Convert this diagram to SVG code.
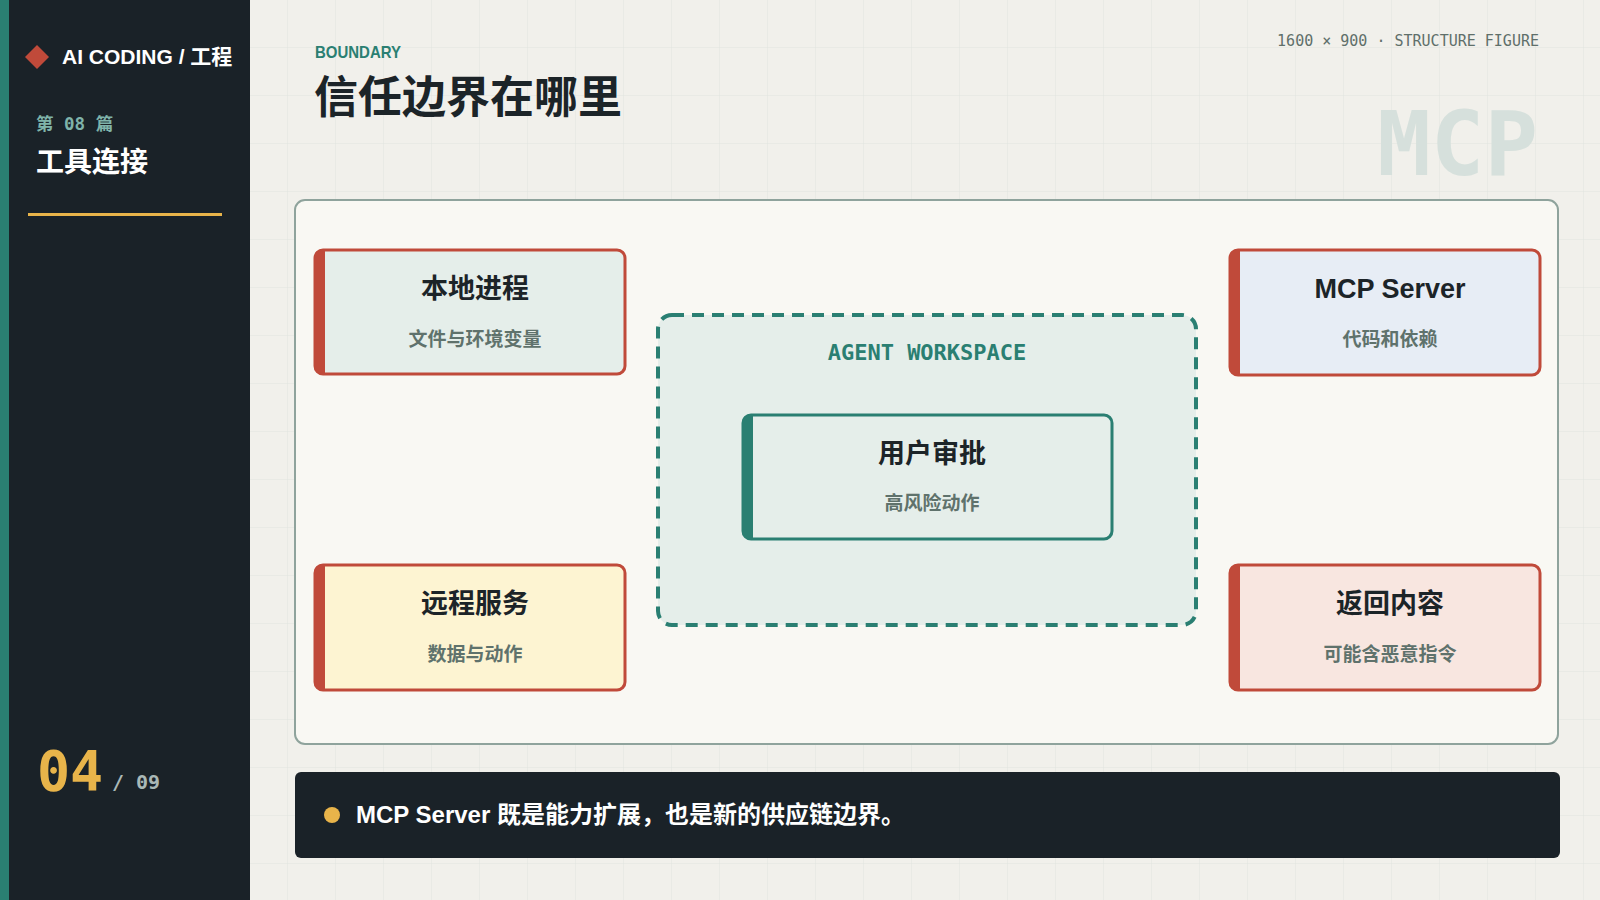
<svg xmlns="http://www.w3.org/2000/svg" width="1600" height="900" viewBox="0 0 1600 900">
<defs>
<pattern id="grid" x="0" y="0" width="48" height="48" patternUnits="userSpaceOnUse">
<path d="M48 0 V48 M0 48 H48" fill="none" stroke="#e1e5df" stroke-width="1"/>
</pattern>
<style>
.sans{font-family:"Liberation Sans","Noto Sans CJK SC",sans-serif;}
.mono{font-family:"DejaVu Sans Mono","Liberation Mono","Noto Sans CJK SC",monospace;}
.node{stroke:#c04a3a;stroke-width:3;}
.bar{fill:#c04a3a;}
.ntitle{font-family:"Liberation Sans","Noto Sans CJK SC",sans-serif;font-size:27px;font-weight:bold;fill:#1c2428;text-anchor:middle;}
.nsub{font-family:"Noto Sans CJK SC",sans-serif;font-size:19px;font-weight:bold;fill:#5f726c;text-anchor:middle;}
</style>
</defs>
<rect x="0" y="0" width="1600" height="900" fill="#f1f0eb"/>
<rect x="250" y="0" width="1350" height="900" fill="url(#grid)"/>
<!-- sidebar -->
<rect x="0" y="0" width="250" height="900" fill="#1a2228"/>
<rect x="0" y="0" width="9" height="900" fill="#2a7f72"/>
<path d="M37 45 L49 57 L37 69 L25 57 Z" fill="#c04a3a"/>
<text x="62" y="64" class="sans" font-size="21" font-weight="bold" fill="#ffffff">AI CODING / 工程</text>
<text x="36" y="130" class="mono" font-size="17.5" font-weight="bold" fill="#7fb3aa">第 08 篇</text>
<text x="36" y="172" font-family="Noto Sans CJK SC,sans-serif" font-size="28" font-weight="bold" fill="#ffffff">工具连接</text>
<rect x="28" y="213" width="194" height="3" fill="#e8b44a"/>
<text x="37" y="790" class="mono" font-size="55" font-weight="bold" fill="#e8b44a">04</text>
<text x="112" y="789" class="mono" font-size="20" font-weight="bold" fill="#a9b8b6">/ 09</text>
<!-- header -->
<text x="315" y="58" class="sans" font-size="17" font-weight="bold" fill="#2a7f72" textLength="86" lengthAdjust="spacingAndGlyphs">BOUNDARY</text>
<text x="314" y="113" font-family="Noto Sans CJK SC,sans-serif" font-size="44" font-weight="bold" fill="#1c2428">信任边界在哪里</text>
<text x="1539" y="46" class="mono" font-size="15" fill="#5f6f6a" text-anchor="end">1600 × 900 · STRUCTURE FIGURE</text>
<text x="1538" y="175" class="mono" font-size="89" font-weight="bold" fill="#d6e0dc" text-anchor="end">MCP</text>
<!-- frame -->
<rect x="295" y="200" width="1263" height="544" rx="10" fill="#f9f8f3" stroke="#8fa39c" stroke-width="2"/>
<g id="workspace">
<rect x="658" y="315" width="538" height="310" rx="14" fill="#e5eeea" stroke="#2a7f72" stroke-width="4" stroke-dasharray="12 8"/>
<text x="927" y="360" class="mono" font-size="22" font-weight="bold" fill="#2a7f72" text-anchor="middle">AGENT WORKSPACE</text>
</g>
<g id="connectors"></g>
<g id="node-local">
<rect x="315" y="250" width="310" height="124" rx="8" fill="#e5eeea" class="node"/>
<path d="M322 250 H325 V374 H322 A8 8 0 0 1 314 366 V258 A8 8 0 0 1 322 250 Z" class="bar"/>
<text x="475" y="298" class="ntitle">本地进程</text>
<text x="475" y="346" class="nsub">文件与环境变量</text>
</g>
<g id="node-mcp">
<rect x="1230" y="250" width="310" height="125" rx="8" fill="#e7edf5" class="node"/>
<path d="M1237 250 H1240 V375 H1237 A8 8 0 0 1 1229 367 V258 A8 8 0 0 1 1237 250 Z" class="bar"/>
<text x="1390" y="298" class="ntitle">MCP Server</text>
<text x="1390" y="346" class="nsub">代码和依赖</text>
</g>
<g id="node-remote">
<rect x="315" y="565" width="310" height="125" rx="8" fill="#fdf4d2" class="node"/>
<path d="M322 565 H325 V690 H322 A8 8 0 0 1 314 682 V573 A8 8 0 0 1 322 565 Z" class="bar"/>
<text x="475" y="613" class="ntitle">远程服务</text>
<text x="475" y="661" class="nsub">数据与动作</text>
</g>
<g id="node-return">
<rect x="1230" y="565" width="310" height="125" rx="8" fill="#f8e6e0" class="node"/>
<path d="M1237 565 H1240 V690 H1237 A8 8 0 0 1 1229 682 V573 A8 8 0 0 1 1237 565 Z" class="bar"/>
<text x="1390" y="613" class="ntitle">返回内容</text>
<text x="1390" y="661" class="nsub">可能含恶意指令</text>
</g>
<g id="node-approve">
<rect x="743" y="415" width="369" height="124" rx="8" fill="#e5eeea" stroke="#2a7f72" stroke-width="3"/>
<path d="M750 415 H753 V539 H750 A8 8 0 0 1 742 531 V423 A8 8 0 0 1 750 415 Z" fill="#2a7f72"/>
<text x="932" y="463" class="ntitle">用户审批</text>
<text x="932" y="510" class="nsub">高风险动作</text>
</g>
<!-- footer -->
<g id="note">
<rect x="295" y="772" width="1265" height="86" rx="6" fill="#1a2228"/>
<circle cx="332" cy="815" r="8" fill="#e8b44a"/>
<text x="356" y="823" class="sans" font-size="24" font-weight="bold" fill="#ffffff">MCP Server 既是能力扩展，也是新的供应链边界。</text>
</g>
</svg>
